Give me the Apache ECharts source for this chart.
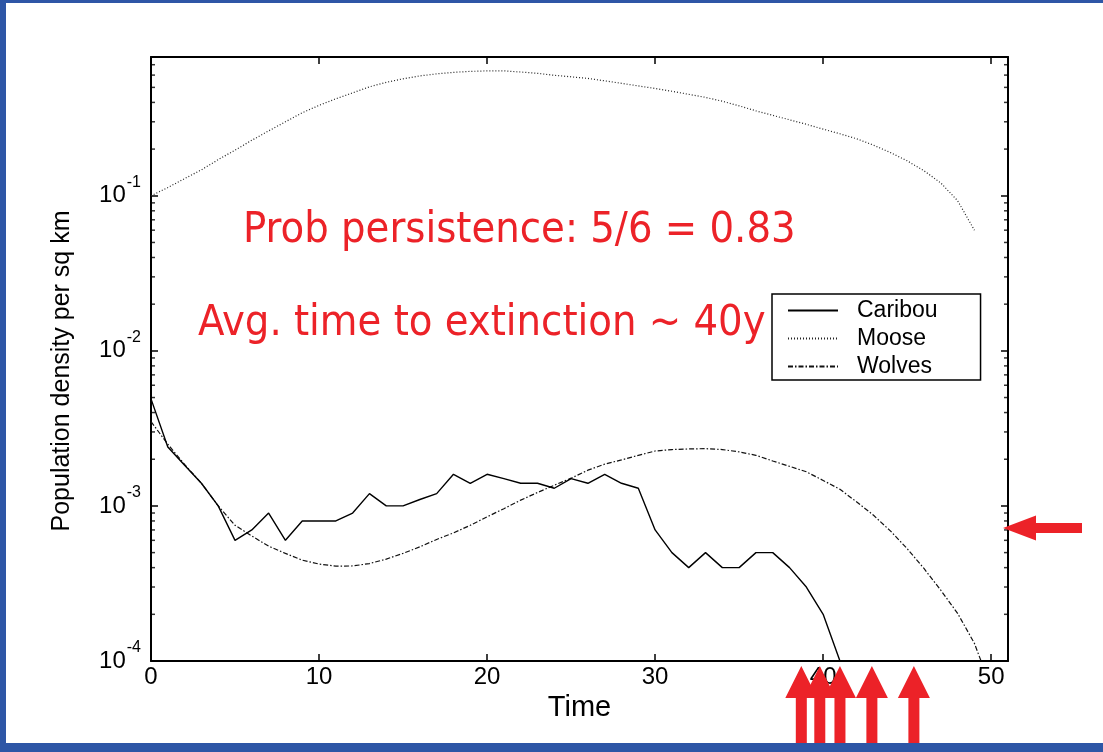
<!DOCTYPE html>
<html>
<head>
<meta charset="utf-8">
<script src="https://cdn.jsdelivr.net/npm/echarts@6/dist/echarts.min.js"></script>
<style>
html, body { margin: 0; padding: 0; background: #ffffff; }
#chart { width: 1103px; height: 752px; }
</style>
</head>
<body>
<div id="chart"></div>
<script>
// ---------------- data ----------------
const years = [0,1,2,3,4,5,6,7,8,9,10,11,12,13,14,15,16,17,18,19,20,21,22,23,24,25,26,27,28,29,30,31,32,33,34,35,36,37,38,39,40,41,42,43,44,45,46,47,48,49,50];

const caribou = [4.9e-3, 2.4e-3, 1.83e-3, 1.4e-3, 1.0e-3, 6.0e-4, 7.0e-4, 9.0e-4, 6.0e-4, 8.0e-4,
  8.0e-4, 8.0e-4, 9.0e-4, 1.2e-3, 1.0e-3, 1.0e-3, 1.1e-3, 1.2e-3, 1.6e-3, 1.4e-3,
  1.6e-3, 1.5e-3, 1.4e-3, 1.4e-3, 1.3e-3, 1.5e-3, 1.4e-3, 1.6e-3, 1.4e-3, 1.3e-3,
  7.0e-4, 5.0e-4, 4.0e-4, 5.0e-4, 4.0e-4, 4.0e-4, 5.0e-4, 5.0e-4, 4.0e-4, 3.0e-4,
  2.0e-4, 1.0e-4];

const moose = [0.100, 0.113, 0.129, 0.147, 0.171, 0.197, 0.228, 0.262, 0.300, 0.343,
  0.383, 0.422, 0.461, 0.504, 0.539, 0.568, 0.593, 0.611, 0.625, 0.634,
  0.639, 0.639, 0.628, 0.616, 0.598, 0.585, 0.571, 0.551, 0.531, 0.511,
  0.492, 0.472, 0.451, 0.431, 0.407, 0.380, 0.353, 0.330, 0.309, 0.289,
  0.269, 0.251, 0.233, 0.212, 0.190, 0.168, 0.145, 0.121, 0.093, 0.060];

const wolves = [3.5e-3, 2.5e-3, 1.85e-3, 1.4e-3, 1.0e-3, 7.5e-4, 6.4e-4, 5.5e-4, 4.94e-4, 4.47e-4,
  4.22e-4, 4.09e-4, 4.1e-4, 4.25e-4, 4.54e-4, 4.94e-4, 5.45e-4, 6.08e-4, 6.7e-4, 7.5e-4,
  8.5e-4, 9.6e-4, 1.09e-3, 1.22e-3, 1.36e-3, 1.51e-3, 1.70e-3, 1.86e-3, 1.98e-3, 2.12e-3,
  2.26e-3, 2.31e-3, 2.33e-3, 2.34e-3, 2.31e-3, 2.23e-3, 2.12e-3, 1.95e-3, 1.80e-3, 1.66e-3,
  1.46e-3, 1.28e-3, 1.06e-3, 8.7e-4, 6.9e-4, 5.3e-4, 3.95e-4, 2.86e-4, 2.03e-4, 1.3e-4,
  6.7e-5];

const seriesNames = ['Caribou', 'Moose', 'Wolves'];
const xTicks = [0, 10, 20, 30, 40, 50];
const yRange = [1e-4, 0.785];
const xRange = [0, 51];
const minorTickValues = [2e-4,3e-4,4e-4,5e-4,6e-4,7e-4,8e-4,9e-4,
  2e-3,3e-3,4e-3,5e-3,6e-3,7e-3,8e-3,9e-3,
  2e-2,3e-2,4e-2,5e-2,6e-2,7e-2,8e-2,9e-2,
  2e-1,3e-1,4e-1,5e-1,6e-1,7e-1];

const annotation1 = 'Prob persistence: 5/6 = 0.83';
const annotation2 = 'Avg. time to extinction ~ 40y';
const extinctionTimes = [38.7, 39.8, 41.0, 42.9, 45.4];
const thresholdLevel = 7.2e-4;

// ---------------- chart ----------------
const FONT = '"Liberation Sans", Arial, Helvetica, sans-serif';
const RED = '#ec2228';
const BLUE = '#2e56a6';

const chart = echarts.init(document.getElementById('chart'), null, { renderer: 'canvas' });

function pairs(vals) { return vals.map((v, i) => [years[i], v]); }

function yLabel(v) {
  const l = Math.log10(v);
  const e = Math.round(l);
  if (Math.abs(l - e) > 1e-6) return '';
  return '{b|10}{s|' + e + '}';
}

const axisLine = { show: true, onZero: false, lineStyle: { color: '#000', width: 2 } };

const option = {
  animation: false,
  backgroundColor: '#ffffff',
  grid: { left: 151, top: 57, right: 95, bottom: 91, containLabel: false },
  legend: {
    data: seriesNames,
    orient: 'vertical',
    left: 772,
    top: 294,
    backgroundColor: '#ffffff',
    borderColor: '#000',
    borderWidth: 1.5,
    borderRadius: 0,
    padding: [5, 43, 2, 15],
    itemGap: 5,
    itemWidth: 50,
    itemHeight: 14,
    selectedMode: false,
    itemStyle: { opacity: 0, borderWidth: 0 },
    textStyle: { fontFamily: FONT, fontSize: 23, color: '#000', padding: [0, 0, 0, 14] }
  },
  xAxis: [
    {
      type: 'value', position: 'bottom', min: xRange[0], max: xRange[1], interval: 10,
      name: 'Time', nameLocation: 'middle', nameGap: 31,
      nameTextStyle: { fontFamily: FONT, fontSize: 29, color: '#000' },
      axisLine: axisLine,
      axisTick: { show: true, inside: true, length: 7, lineStyle: { color: '#000', width: 1.5 } },
      axisLabel: { show: true, margin: 4, fontFamily: FONT, fontSize: 24, color: '#000',
        formatter: v => (xTicks.indexOf(v) >= 0 ? String(v) : '') },
      splitLine: { show: false }
    },
    {
      type: 'value', position: 'top', min: xRange[0], max: xRange[1], interval: 10,
      axisLine: axisLine,
      axisTick: { show: true, inside: true, length: 7, lineStyle: { color: '#000', width: 1.5 } },
      axisLabel: { show: false },
      splitLine: { show: false }
    }
  ],
  yAxis: [
    {
      type: 'log', logBase: 10, position: 'left', min: yRange[0], max: yRange[1],
      name: 'Population density per sq km', nameLocation: 'middle', nameGap: 76, nameRotate: 90,
      nameTextStyle: { fontFamily: FONT, fontSize: 25, color: '#000', padding: [0, 24, 0, 0] },
      axisLine: axisLine,
      axisTick: { show: true, inside: true, length: 7, lineStyle: { color: '#000', width: 1.5 } },
      axisLabel: {
        show: true, margin: 10, formatter: yLabel,
        rich: {
          b: { fontFamily: FONT, fontSize: 24, color: '#000', verticalAlign: 'middle' },
          s: { fontFamily: FONT, fontSize: 16, color: '#000', verticalAlign: 'middle', padding: [0, 0, 26, 1] }
        }
      },
      splitLine: { show: false }
    },
    {
      type: 'log', logBase: 10, position: 'right', min: yRange[0], max: yRange[1],
      axisLine: axisLine,
      axisTick: { show: true, inside: true, length: 7, lineStyle: { color: '#000', width: 1.5 } },
      axisLabel: { show: false },
      splitLine: { show: false }
    }
  ],
  series: [
    {
      name: 'Caribou', type: 'line', xAxisIndex: 0, yAxisIndex: 0,
      data: pairs(caribou), showSymbol: false, symbol: 'none', clip: true,
      lineStyle: { color: '#000', width: 1.4, type: 'solid' }, itemStyle: { color: '#000' }, z: 5
    },
    {
      name: 'Moose', type: 'line', xAxisIndex: 0, yAxisIndex: 0,
      data: pairs(moose), showSymbol: false, symbol: 'none', clip: true,
      lineStyle: { color: '#222', width: 1.2, type: [1, 2] }, itemStyle: { color: '#222' }, z: 4
    },
    {
      name: 'Wolves', type: 'line', xAxisIndex: 0, yAxisIndex: 0,
      data: pairs(wolves), showSymbol: false, symbol: 'none', clip: true,
      lineStyle: { color: '#111', width: 1.2, type: [5, 2, 1.5, 2] }, itemStyle: { color: '#111' }, z: 4
    },
    {
      name: 'minorLeft', type: 'scatter', xAxisIndex: 0, yAxisIndex: 0, silent: true,
      data: minorTickValues.map(v => [xRange[0], v]),
      symbol: 'rect', symbolSize: [4, 1.5], symbolOffset: [2, 0],
      itemStyle: { color: '#000' }, z: 6
    },
    {
      name: 'minorRight', type: 'scatter', xAxisIndex: 0, yAxisIndex: 0, silent: true,
      data: minorTickValues.map(v => [xRange[1], v]),
      symbol: 'rect', symbolSize: [4, 1.5], symbolOffset: [-2, 0],
      itemStyle: { color: '#000' }, z: 6
    }
  ]
};

chart.setOption(option);

// ---------------- annotations (positioned through the axes) ----------------
function upArrow(x) {
  const tip = 666, base = 698, hw = 16, sw = 5.5, end = 760;
  return [[x, tip], [x + hw, base], [x + sw, base], [x + sw, end], [x - sw, end], [x - sw, base], [x - hw, base]];
}
function leftArrow(y) {
  const tip = 1003, back = 1036, hh = 12.5, sh = 5, end = 1082;
  return [[tip, y], [back, y - hh], [back, y - sh], [end, y - sh], [end, y + sh], [back, y + sh], [back, y + hh]];
}

const graphics = [];
const textFont = '43px "DejaVu Sans Condensed", "DejaVu Sans", Tahoma, Verdana, sans-serif';
graphics.push({ type: 'text', x: 243, y: 231, z: 50,
  style: { text: annotation1, fill: RED, font: textFont, textAlign: 'left', textVerticalAlign: 'middle' } });
graphics.push({ type: 'text', x: 198, y: 324, z: 50,
  style: { text: annotation2, fill: RED, font: textFont, textAlign: 'left', textVerticalAlign: 'middle' } });

extinctionTimes.forEach(t => {
  const px = chart.convertToPixel({ xAxisIndex: 0 }, t);
  graphics.push({ type: 'polygon', z: 60, shape: { points: upArrow(px) }, style: { fill: RED } });
});
const py = chart.convertToPixel({ yAxisIndex: 0 }, thresholdLevel);
graphics.push({ type: 'polygon', z: 60, shape: { points: leftArrow(py) }, style: { fill: RED } });

// slide frame
graphics.push({ type: 'rect', z: 100, shape: { x: 0, y: 0, width: 6, height: 752 }, style: { fill: BLUE } });
graphics.push({ type: 'rect', z: 100, shape: { x: 0, y: 0, width: 1103, height: 3 }, style: { fill: BLUE } });
graphics.push({ type: 'rect', z: 100, shape: { x: 0, y: 743, width: 1103, height: 9 }, style: { fill: BLUE } });

chart.setOption({ graphic: graphics });
</script>
</body>
</html>
